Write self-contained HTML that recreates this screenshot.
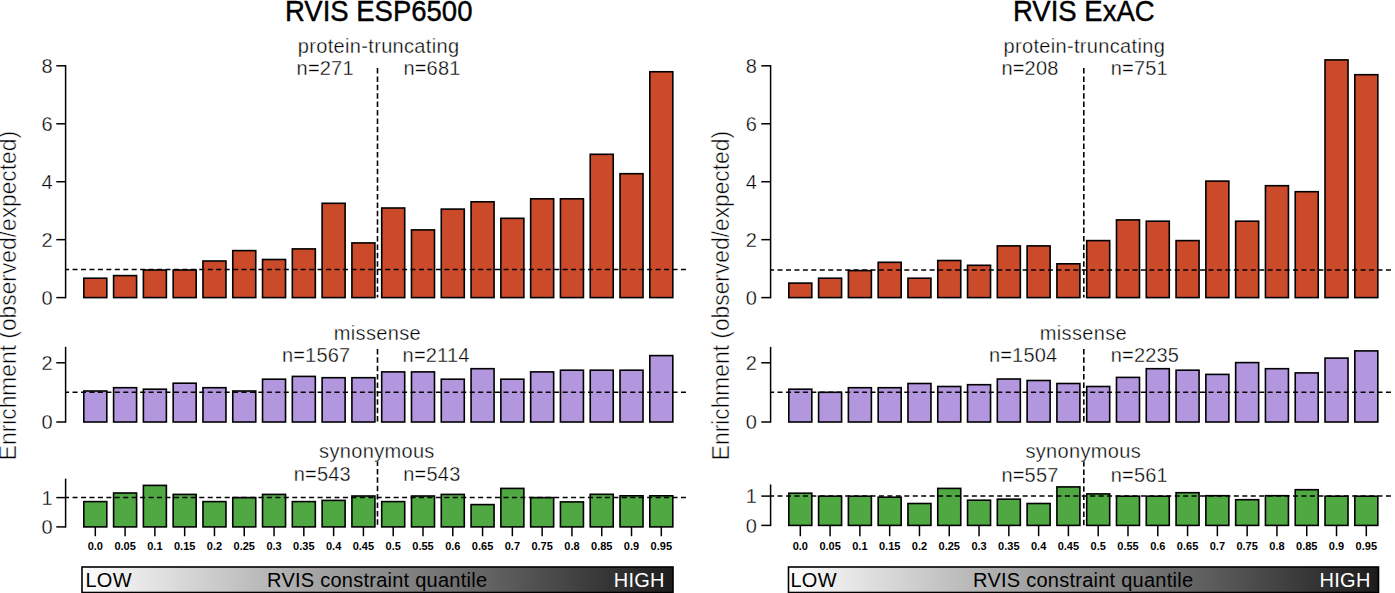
<!DOCTYPE html>
<html><head><meta charset="utf-8">
<style>
html,body{margin:0;padding:0;background:#fff;}
body{width:1395px;height:593px;overflow:hidden;}
svg{display:block;}
text{font-family:"Liberation Sans",sans-serif;fill:#000;}
.lb,.yl{stroke:#fff;stroke-width:0.35px;paint-order:fill;}
.yl{font-size:20px;text-anchor:end;}
.xl{font-size:11px;font-weight:bold;text-anchor:middle;}
.lb{font-size:20px;letter-spacing:0.2px;}
.ttl{font-size:27.5px;text-anchor:middle;stroke:#000;stroke-width:0.4px;}
.sp{letter-spacing:0.33px;}
.sp2{letter-spacing:0.25px;}
.ns{stroke:none;}
.yt{font-size:22.8px;stroke:#fff;stroke-width:0.5px;paint-order:fill;}
.b{fill:none;stroke:#000;stroke-width:1.6;}
.a{stroke:#000;stroke-width:1.5;fill:none;}
.d{stroke:#000;stroke-width:1.5;stroke-dasharray:5 3.45;stroke-dashoffset:1.5;}
.dv{stroke:#000;stroke-width:1.6;stroke-dasharray:5.5 2.9;}
</style></head><body>
<svg width="1395" height="593" viewBox="0 0 1395 593">
<defs>
<linearGradient id="g" x1="0" y1="0" x2="1" y2="0">
<stop offset="0" stop-color="#fefefe"/>
<stop offset="1" stop-color="#1c1c1c"/>
</linearGradient>
</defs>
<rect x="83.8" y="278.2" width="23" height="19.4" fill="#CA4A2A"/>
<rect x="113.59" y="275.6" width="23" height="22" fill="#CA4A2A"/>
<rect x="143.38" y="270" width="23" height="27.6" fill="#CA4A2A"/>
<rect x="173.17" y="270" width="23" height="27.6" fill="#CA4A2A"/>
<rect x="202.96" y="261" width="23" height="36.6" fill="#CA4A2A"/>
<rect x="232.75" y="250.6" width="23" height="47" fill="#CA4A2A"/>
<rect x="262.54" y="259.5" width="23" height="38.1" fill="#CA4A2A"/>
<rect x="292.33" y="248.9" width="23" height="48.7" fill="#CA4A2A"/>
<rect x="322.12" y="203.3" width="23" height="94.3" fill="#CA4A2A"/>
<rect x="351.91" y="242.9" width="23" height="54.7" fill="#CA4A2A"/>
<rect x="381.7" y="208" width="23" height="89.6" fill="#CA4A2A"/>
<rect x="411.49" y="229.9" width="23" height="67.7" fill="#CA4A2A"/>
<rect x="441.28" y="209.1" width="23" height="88.5" fill="#CA4A2A"/>
<rect x="471.07" y="201.8" width="23" height="95.8" fill="#CA4A2A"/>
<rect x="500.86" y="218.3" width="23" height="79.3" fill="#CA4A2A"/>
<rect x="530.65" y="198.8" width="23" height="98.8" fill="#CA4A2A"/>
<rect x="560.44" y="198.8" width="23" height="98.8" fill="#CA4A2A"/>
<rect x="590.23" y="154.3" width="23" height="143.3" fill="#CA4A2A"/>
<rect x="620.02" y="173.7" width="23" height="123.9" fill="#CA4A2A"/>
<rect x="649.81" y="71.75" width="23" height="225.85" fill="#CA4A2A"/>
<line x1="65.6" y1="269.6" x2="688.8" y2="269.6" class="d"/>
<line x1="377.5" y1="68" x2="377.5" y2="297.6" class="dv"/>
<line x1="65.6" y1="65.05" x2="65.6" y2="298.35" class="a"/>
<line x1="56.3" y1="297.6" x2="65.6" y2="297.6" class="a"/>
<text x="52.6" y="304.8" class="yl">0</text>
<line x1="56.3" y1="239.66" x2="65.6" y2="239.66" class="a"/>
<text x="52.6" y="246.86" class="yl">2</text>
<line x1="56.3" y1="181.72" x2="65.6" y2="181.72" class="a"/>
<text x="52.6" y="188.92" class="yl">4</text>
<line x1="56.3" y1="123.78" x2="65.6" y2="123.78" class="a"/>
<text x="52.6" y="130.98" class="yl">6</text>
<line x1="56.3" y1="65.8" x2="65.6" y2="65.8" class="a"/>
<text x="52.6" y="73" class="yl">8</text>
<rect x="83.8" y="391" width="23" height="31" fill="#B296DE"/>
<rect x="113.59" y="387.7" width="23" height="34.3" fill="#B296DE"/>
<rect x="143.38" y="389.2" width="23" height="32.8" fill="#B296DE"/>
<rect x="173.17" y="383.2" width="23" height="38.8" fill="#B296DE"/>
<rect x="202.96" y="387.7" width="23" height="34.3" fill="#B296DE"/>
<rect x="232.75" y="391" width="23" height="31" fill="#B296DE"/>
<rect x="262.54" y="379.2" width="23" height="42.8" fill="#B296DE"/>
<rect x="292.33" y="376.4" width="23" height="45.6" fill="#B296DE"/>
<rect x="322.12" y="377.7" width="23" height="44.3" fill="#B296DE"/>
<rect x="351.91" y="377.7" width="23" height="44.3" fill="#B296DE"/>
<rect x="381.7" y="371.9" width="23" height="50.1" fill="#B296DE"/>
<rect x="411.49" y="371.9" width="23" height="50.1" fill="#B296DE"/>
<rect x="441.28" y="379.2" width="23" height="42.8" fill="#B296DE"/>
<rect x="471.07" y="368.7" width="23" height="53.3" fill="#B296DE"/>
<rect x="500.86" y="379.2" width="23" height="42.8" fill="#B296DE"/>
<rect x="530.65" y="371.9" width="23" height="50.1" fill="#B296DE"/>
<rect x="560.44" y="370.2" width="23" height="51.8" fill="#B296DE"/>
<rect x="590.23" y="370.2" width="23" height="51.8" fill="#B296DE"/>
<rect x="620.02" y="370.2" width="23" height="51.8" fill="#B296DE"/>
<rect x="649.81" y="355.6" width="23" height="66.4" fill="#B296DE"/>
<line x1="65.6" y1="392.3" x2="688.8" y2="392.3" class="d"/>
<line x1="377.5" y1="348.9" x2="377.5" y2="422" class="dv"/>
<line x1="65.6" y1="346.85" x2="65.6" y2="422.75" class="a"/>
<line x1="56.3" y1="422" x2="65.6" y2="422" class="a"/>
<text x="52.6" y="429.2" class="yl">0</text>
<line x1="56.3" y1="362.8" x2="65.6" y2="362.8" class="a"/>
<text x="52.6" y="370" class="yl">2</text>
<rect x="83.8" y="501.6" width="23" height="25.3" fill="#4FA842"/>
<rect x="113.59" y="493" width="23" height="33.9" fill="#4FA842"/>
<rect x="143.38" y="485.4" width="23" height="41.5" fill="#4FA842"/>
<rect x="173.17" y="494.4" width="23" height="32.5" fill="#4FA842"/>
<rect x="202.96" y="501.6" width="23" height="25.3" fill="#4FA842"/>
<rect x="232.75" y="497.6" width="23" height="29.3" fill="#4FA842"/>
<rect x="262.54" y="494.4" width="23" height="32.5" fill="#4FA842"/>
<rect x="292.33" y="501.6" width="23" height="25.3" fill="#4FA842"/>
<rect x="322.12" y="500.4" width="23" height="26.5" fill="#4FA842"/>
<rect x="351.91" y="496" width="23" height="30.9" fill="#4FA842"/>
<rect x="381.7" y="501.6" width="23" height="25.3" fill="#4FA842"/>
<rect x="411.49" y="496" width="23" height="30.9" fill="#4FA842"/>
<rect x="441.28" y="494.4" width="23" height="32.5" fill="#4FA842"/>
<rect x="471.07" y="504.6" width="23" height="22.3" fill="#4FA842"/>
<rect x="500.86" y="488.4" width="23" height="38.5" fill="#4FA842"/>
<rect x="530.65" y="497.6" width="23" height="29.3" fill="#4FA842"/>
<rect x="560.44" y="501.9" width="23" height="25" fill="#4FA842"/>
<rect x="590.23" y="494.3" width="23" height="32.6" fill="#4FA842"/>
<rect x="620.02" y="495.8" width="23" height="31.1" fill="#4FA842"/>
<rect x="649.81" y="495.8" width="23" height="31.1" fill="#4FA842"/>
<line x1="65.6" y1="497.5" x2="688.8" y2="497.5" class="d"/>
<line x1="377.5" y1="460.5" x2="377.5" y2="526.9" class="dv"/>
<line x1="65.6" y1="478.65" x2="65.6" y2="527.65" class="a"/>
<line x1="56.3" y1="526.9" x2="65.6" y2="526.9" class="a"/>
<text x="52.6" y="534.1" class="yl">0</text>
<line x1="56.3" y1="497.6" x2="65.6" y2="497.6" class="a"/>
<text x="52.6" y="504.8" class="yl">1</text>
<rect x="83.8" y="278.2" width="23" height="19.4" class="b"/>
<rect x="113.59" y="275.6" width="23" height="22" class="b"/>
<rect x="143.38" y="270" width="23" height="27.6" class="b"/>
<rect x="173.17" y="270" width="23" height="27.6" class="b"/>
<rect x="202.96" y="261" width="23" height="36.6" class="b"/>
<rect x="232.75" y="250.6" width="23" height="47" class="b"/>
<rect x="262.54" y="259.5" width="23" height="38.1" class="b"/>
<rect x="292.33" y="248.9" width="23" height="48.7" class="b"/>
<rect x="322.12" y="203.3" width="23" height="94.3" class="b"/>
<rect x="351.91" y="242.9" width="23" height="54.7" class="b"/>
<rect x="381.7" y="208" width="23" height="89.6" class="b"/>
<rect x="411.49" y="229.9" width="23" height="67.7" class="b"/>
<rect x="441.28" y="209.1" width="23" height="88.5" class="b"/>
<rect x="471.07" y="201.8" width="23" height="95.8" class="b"/>
<rect x="500.86" y="218.3" width="23" height="79.3" class="b"/>
<rect x="530.65" y="198.8" width="23" height="98.8" class="b"/>
<rect x="560.44" y="198.8" width="23" height="98.8" class="b"/>
<rect x="590.23" y="154.3" width="23" height="143.3" class="b"/>
<rect x="620.02" y="173.7" width="23" height="123.9" class="b"/>
<rect x="649.81" y="71.75" width="23" height="225.85" class="b"/>
<rect x="83.8" y="391" width="23" height="31" class="b"/>
<rect x="113.59" y="387.7" width="23" height="34.3" class="b"/>
<rect x="143.38" y="389.2" width="23" height="32.8" class="b"/>
<rect x="173.17" y="383.2" width="23" height="38.8" class="b"/>
<rect x="202.96" y="387.7" width="23" height="34.3" class="b"/>
<rect x="232.75" y="391" width="23" height="31" class="b"/>
<rect x="262.54" y="379.2" width="23" height="42.8" class="b"/>
<rect x="292.33" y="376.4" width="23" height="45.6" class="b"/>
<rect x="322.12" y="377.7" width="23" height="44.3" class="b"/>
<rect x="351.91" y="377.7" width="23" height="44.3" class="b"/>
<rect x="381.7" y="371.9" width="23" height="50.1" class="b"/>
<rect x="411.49" y="371.9" width="23" height="50.1" class="b"/>
<rect x="441.28" y="379.2" width="23" height="42.8" class="b"/>
<rect x="471.07" y="368.7" width="23" height="53.3" class="b"/>
<rect x="500.86" y="379.2" width="23" height="42.8" class="b"/>
<rect x="530.65" y="371.9" width="23" height="50.1" class="b"/>
<rect x="560.44" y="370.2" width="23" height="51.8" class="b"/>
<rect x="590.23" y="370.2" width="23" height="51.8" class="b"/>
<rect x="620.02" y="370.2" width="23" height="51.8" class="b"/>
<rect x="649.81" y="355.6" width="23" height="66.4" class="b"/>
<rect x="83.8" y="501.6" width="23" height="25.3" class="b"/>
<rect x="113.59" y="493" width="23" height="33.9" class="b"/>
<rect x="143.38" y="485.4" width="23" height="41.5" class="b"/>
<rect x="173.17" y="494.4" width="23" height="32.5" class="b"/>
<rect x="202.96" y="501.6" width="23" height="25.3" class="b"/>
<rect x="232.75" y="497.6" width="23" height="29.3" class="b"/>
<rect x="262.54" y="494.4" width="23" height="32.5" class="b"/>
<rect x="292.33" y="501.6" width="23" height="25.3" class="b"/>
<rect x="322.12" y="500.4" width="23" height="26.5" class="b"/>
<rect x="351.91" y="496" width="23" height="30.9" class="b"/>
<rect x="381.7" y="501.6" width="23" height="25.3" class="b"/>
<rect x="411.49" y="496" width="23" height="30.9" class="b"/>
<rect x="441.28" y="494.4" width="23" height="32.5" class="b"/>
<rect x="471.07" y="504.6" width="23" height="22.3" class="b"/>
<rect x="500.86" y="488.4" width="23" height="38.5" class="b"/>
<rect x="530.65" y="497.6" width="23" height="29.3" class="b"/>
<rect x="560.44" y="501.9" width="23" height="25" class="b"/>
<rect x="590.23" y="494.3" width="23" height="32.6" class="b"/>
<rect x="620.02" y="495.8" width="23" height="31.1" class="b"/>
<rect x="649.81" y="495.8" width="23" height="31.1" class="b"/>
<line x1="95.3" y1="526.9" x2="95.3" y2="536.2" class="a"/>
<text x="95.3" y="549.6" class="xl">0.0</text>
<line x1="125.09" y1="526.9" x2="125.09" y2="536.2" class="a"/>
<text x="125.09" y="549.6" class="xl">0.05</text>
<line x1="154.88" y1="526.9" x2="154.88" y2="536.2" class="a"/>
<text x="154.88" y="549.6" class="xl">0.1</text>
<line x1="184.67" y1="526.9" x2="184.67" y2="536.2" class="a"/>
<text x="184.67" y="549.6" class="xl">0.15</text>
<line x1="214.46" y1="526.9" x2="214.46" y2="536.2" class="a"/>
<text x="214.46" y="549.6" class="xl">0.2</text>
<line x1="244.25" y1="526.9" x2="244.25" y2="536.2" class="a"/>
<text x="244.25" y="549.6" class="xl">0.25</text>
<line x1="274.04" y1="526.9" x2="274.04" y2="536.2" class="a"/>
<text x="274.04" y="549.6" class="xl">0.3</text>
<line x1="303.83" y1="526.9" x2="303.83" y2="536.2" class="a"/>
<text x="303.83" y="549.6" class="xl">0.35</text>
<line x1="333.62" y1="526.9" x2="333.62" y2="536.2" class="a"/>
<text x="333.62" y="549.6" class="xl">0.4</text>
<line x1="363.41" y1="526.9" x2="363.41" y2="536.2" class="a"/>
<text x="363.41" y="549.6" class="xl">0.45</text>
<line x1="393.2" y1="526.9" x2="393.2" y2="536.2" class="a"/>
<text x="393.2" y="549.6" class="xl">0.5</text>
<line x1="422.99" y1="526.9" x2="422.99" y2="536.2" class="a"/>
<text x="422.99" y="549.6" class="xl">0.55</text>
<line x1="452.78" y1="526.9" x2="452.78" y2="536.2" class="a"/>
<text x="452.78" y="549.6" class="xl">0.6</text>
<line x1="482.57" y1="526.9" x2="482.57" y2="536.2" class="a"/>
<text x="482.57" y="549.6" class="xl">0.65</text>
<line x1="512.36" y1="526.9" x2="512.36" y2="536.2" class="a"/>
<text x="512.36" y="549.6" class="xl">0.7</text>
<line x1="542.15" y1="526.9" x2="542.15" y2="536.2" class="a"/>
<text x="542.15" y="549.6" class="xl">0.75</text>
<line x1="571.94" y1="526.9" x2="571.94" y2="536.2" class="a"/>
<text x="571.94" y="549.6" class="xl">0.8</text>
<line x1="601.73" y1="526.9" x2="601.73" y2="536.2" class="a"/>
<text x="601.73" y="549.6" class="xl">0.85</text>
<line x1="631.52" y1="526.9" x2="631.52" y2="536.2" class="a"/>
<text x="631.52" y="549.6" class="xl">0.9</text>
<line x1="661.31" y1="526.9" x2="661.31" y2="536.2" class="a"/>
<text x="661.31" y="549.6" class="xl">0.95</text>
<rect x="788.8" y="283.1" width="23" height="14.5" fill="#CA4A2A"/>
<rect x="818.59" y="278.2" width="23" height="19.4" fill="#CA4A2A"/>
<rect x="848.38" y="270.6" width="23" height="27" fill="#CA4A2A"/>
<rect x="878.17" y="262.3" width="23" height="35.3" fill="#CA4A2A"/>
<rect x="907.96" y="278.2" width="23" height="19.4" fill="#CA4A2A"/>
<rect x="937.75" y="260.5" width="23" height="37.1" fill="#CA4A2A"/>
<rect x="967.54" y="265.3" width="23" height="32.3" fill="#CA4A2A"/>
<rect x="997.33" y="245.9" width="23" height="51.7" fill="#CA4A2A"/>
<rect x="1027.12" y="245.9" width="23" height="51.7" fill="#CA4A2A"/>
<rect x="1056.91" y="263.8" width="23" height="33.8" fill="#CA4A2A"/>
<rect x="1086.7" y="240.6" width="23" height="57" fill="#CA4A2A"/>
<rect x="1116.49" y="219.9" width="23" height="77.7" fill="#CA4A2A"/>
<rect x="1146.28" y="221.2" width="23" height="76.4" fill="#CA4A2A"/>
<rect x="1176.07" y="240.6" width="23" height="57" fill="#CA4A2A"/>
<rect x="1205.86" y="181.1" width="23" height="116.5" fill="#CA4A2A"/>
<rect x="1235.65" y="221.2" width="23" height="76.4" fill="#CA4A2A"/>
<rect x="1265.44" y="185.7" width="23" height="111.9" fill="#CA4A2A"/>
<rect x="1295.23" y="191.7" width="23" height="105.9" fill="#CA4A2A"/>
<rect x="1325.02" y="59.9" width="23" height="237.7" fill="#CA4A2A"/>
<rect x="1354.81" y="74.7" width="23" height="222.9" fill="#CA4A2A"/>
<line x1="770.6" y1="270" x2="1393.8" y2="270" class="d"/>
<line x1="1083.8" y1="68" x2="1083.8" y2="297.6" class="dv"/>
<line x1="770.6" y1="65.05" x2="770.6" y2="298.35" class="a"/>
<line x1="761.3" y1="297.6" x2="770.6" y2="297.6" class="a"/>
<text x="756.8" y="304.8" class="yl">0</text>
<line x1="761.3" y1="239.66" x2="770.6" y2="239.66" class="a"/>
<text x="756.8" y="246.86" class="yl">2</text>
<line x1="761.3" y1="181.72" x2="770.6" y2="181.72" class="a"/>
<text x="756.8" y="188.92" class="yl">4</text>
<line x1="761.3" y1="123.78" x2="770.6" y2="123.78" class="a"/>
<text x="756.8" y="130.98" class="yl">6</text>
<line x1="761.3" y1="65.8" x2="770.6" y2="65.8" class="a"/>
<text x="756.8" y="73" class="yl">8</text>
<rect x="788.8" y="389.2" width="23" height="32.8" fill="#B296DE"/>
<rect x="818.59" y="392.3" width="23" height="29.7" fill="#B296DE"/>
<rect x="848.38" y="387.7" width="23" height="34.3" fill="#B296DE"/>
<rect x="878.17" y="387.7" width="23" height="34.3" fill="#B296DE"/>
<rect x="907.96" y="383.5" width="23" height="38.5" fill="#B296DE"/>
<rect x="937.75" y="386.5" width="23" height="35.5" fill="#B296DE"/>
<rect x="967.54" y="384.7" width="23" height="37.3" fill="#B296DE"/>
<rect x="997.33" y="379" width="23" height="43" fill="#B296DE"/>
<rect x="1027.12" y="380.5" width="23" height="41.5" fill="#B296DE"/>
<rect x="1056.91" y="383.5" width="23" height="38.5" fill="#B296DE"/>
<rect x="1086.7" y="386.5" width="23" height="35.5" fill="#B296DE"/>
<rect x="1116.49" y="377.4" width="23" height="44.6" fill="#B296DE"/>
<rect x="1146.28" y="368.7" width="23" height="53.3" fill="#B296DE"/>
<rect x="1176.07" y="370.2" width="23" height="51.8" fill="#B296DE"/>
<rect x="1205.86" y="374.4" width="23" height="47.6" fill="#B296DE"/>
<rect x="1235.65" y="362.6" width="23" height="59.4" fill="#B296DE"/>
<rect x="1265.44" y="368.7" width="23" height="53.3" fill="#B296DE"/>
<rect x="1295.23" y="372.9" width="23" height="49.1" fill="#B296DE"/>
<rect x="1325.02" y="358.1" width="23" height="63.9" fill="#B296DE"/>
<rect x="1354.81" y="350.9" width="23" height="71.1" fill="#B296DE"/>
<line x1="770.6" y1="392.3" x2="1393.8" y2="392.3" class="d"/>
<line x1="1083.8" y1="348.9" x2="1083.8" y2="422" class="dv"/>
<line x1="770.6" y1="346.85" x2="770.6" y2="422.75" class="a"/>
<line x1="761.3" y1="422" x2="770.6" y2="422" class="a"/>
<text x="756.8" y="429.2" class="yl">0</text>
<line x1="761.3" y1="362.8" x2="770.6" y2="362.8" class="a"/>
<text x="756.8" y="370" class="yl">2</text>
<rect x="788.8" y="493.2" width="23" height="32.2" fill="#4FA842"/>
<rect x="818.59" y="496.2" width="23" height="29.2" fill="#4FA842"/>
<rect x="848.38" y="496.2" width="23" height="29.2" fill="#4FA842"/>
<rect x="878.17" y="497.2" width="23" height="28.2" fill="#4FA842"/>
<rect x="907.96" y="503.5" width="23" height="21.9" fill="#4FA842"/>
<rect x="937.75" y="488.4" width="23" height="37" fill="#4FA842"/>
<rect x="967.54" y="500.2" width="23" height="25.2" fill="#4FA842"/>
<rect x="997.33" y="499.2" width="23" height="26.2" fill="#4FA842"/>
<rect x="1027.12" y="503.5" width="23" height="21.9" fill="#4FA842"/>
<rect x="1056.91" y="486.9" width="23" height="38.5" fill="#4FA842"/>
<rect x="1086.7" y="493.9" width="23" height="31.5" fill="#4FA842"/>
<rect x="1116.49" y="496.2" width="23" height="29.2" fill="#4FA842"/>
<rect x="1146.28" y="496.2" width="23" height="29.2" fill="#4FA842"/>
<rect x="1176.07" y="492.7" width="23" height="32.7" fill="#4FA842"/>
<rect x="1205.86" y="495.7" width="23" height="29.7" fill="#4FA842"/>
<rect x="1235.65" y="499.7" width="23" height="25.7" fill="#4FA842"/>
<rect x="1265.44" y="495.7" width="23" height="29.7" fill="#4FA842"/>
<rect x="1295.23" y="489.7" width="23" height="35.7" fill="#4FA842"/>
<rect x="1325.02" y="496.2" width="23" height="29.2" fill="#4FA842"/>
<rect x="1354.81" y="496.2" width="23" height="29.2" fill="#4FA842"/>
<line x1="770.6" y1="495.9" x2="1393.8" y2="495.9" class="d"/>
<line x1="1083.8" y1="461" x2="1083.8" y2="525.4" class="dv"/>
<line x1="770.6" y1="484.45" x2="770.6" y2="526.15" class="a"/>
<line x1="761.3" y1="525.4" x2="770.6" y2="525.4" class="a"/>
<text x="756.8" y="532.6" class="yl">0</text>
<line x1="761.3" y1="496.1" x2="770.6" y2="496.1" class="a"/>
<text x="756.8" y="503.3" class="yl">1</text>
<rect x="788.8" y="283.1" width="23" height="14.5" class="b"/>
<rect x="818.59" y="278.2" width="23" height="19.4" class="b"/>
<rect x="848.38" y="270.6" width="23" height="27" class="b"/>
<rect x="878.17" y="262.3" width="23" height="35.3" class="b"/>
<rect x="907.96" y="278.2" width="23" height="19.4" class="b"/>
<rect x="937.75" y="260.5" width="23" height="37.1" class="b"/>
<rect x="967.54" y="265.3" width="23" height="32.3" class="b"/>
<rect x="997.33" y="245.9" width="23" height="51.7" class="b"/>
<rect x="1027.12" y="245.9" width="23" height="51.7" class="b"/>
<rect x="1056.91" y="263.8" width="23" height="33.8" class="b"/>
<rect x="1086.7" y="240.6" width="23" height="57" class="b"/>
<rect x="1116.49" y="219.9" width="23" height="77.7" class="b"/>
<rect x="1146.28" y="221.2" width="23" height="76.4" class="b"/>
<rect x="1176.07" y="240.6" width="23" height="57" class="b"/>
<rect x="1205.86" y="181.1" width="23" height="116.5" class="b"/>
<rect x="1235.65" y="221.2" width="23" height="76.4" class="b"/>
<rect x="1265.44" y="185.7" width="23" height="111.9" class="b"/>
<rect x="1295.23" y="191.7" width="23" height="105.9" class="b"/>
<rect x="1325.02" y="59.9" width="23" height="237.7" class="b"/>
<rect x="1354.81" y="74.7" width="23" height="222.9" class="b"/>
<rect x="788.8" y="389.2" width="23" height="32.8" class="b"/>
<rect x="818.59" y="392.3" width="23" height="29.7" class="b"/>
<rect x="848.38" y="387.7" width="23" height="34.3" class="b"/>
<rect x="878.17" y="387.7" width="23" height="34.3" class="b"/>
<rect x="907.96" y="383.5" width="23" height="38.5" class="b"/>
<rect x="937.75" y="386.5" width="23" height="35.5" class="b"/>
<rect x="967.54" y="384.7" width="23" height="37.3" class="b"/>
<rect x="997.33" y="379" width="23" height="43" class="b"/>
<rect x="1027.12" y="380.5" width="23" height="41.5" class="b"/>
<rect x="1056.91" y="383.5" width="23" height="38.5" class="b"/>
<rect x="1086.7" y="386.5" width="23" height="35.5" class="b"/>
<rect x="1116.49" y="377.4" width="23" height="44.6" class="b"/>
<rect x="1146.28" y="368.7" width="23" height="53.3" class="b"/>
<rect x="1176.07" y="370.2" width="23" height="51.8" class="b"/>
<rect x="1205.86" y="374.4" width="23" height="47.6" class="b"/>
<rect x="1235.65" y="362.6" width="23" height="59.4" class="b"/>
<rect x="1265.44" y="368.7" width="23" height="53.3" class="b"/>
<rect x="1295.23" y="372.9" width="23" height="49.1" class="b"/>
<rect x="1325.02" y="358.1" width="23" height="63.9" class="b"/>
<rect x="1354.81" y="350.9" width="23" height="71.1" class="b"/>
<rect x="788.8" y="493.2" width="23" height="32.2" class="b"/>
<rect x="818.59" y="496.2" width="23" height="29.2" class="b"/>
<rect x="848.38" y="496.2" width="23" height="29.2" class="b"/>
<rect x="878.17" y="497.2" width="23" height="28.2" class="b"/>
<rect x="907.96" y="503.5" width="23" height="21.9" class="b"/>
<rect x="937.75" y="488.4" width="23" height="37" class="b"/>
<rect x="967.54" y="500.2" width="23" height="25.2" class="b"/>
<rect x="997.33" y="499.2" width="23" height="26.2" class="b"/>
<rect x="1027.12" y="503.5" width="23" height="21.9" class="b"/>
<rect x="1056.91" y="486.9" width="23" height="38.5" class="b"/>
<rect x="1086.7" y="493.9" width="23" height="31.5" class="b"/>
<rect x="1116.49" y="496.2" width="23" height="29.2" class="b"/>
<rect x="1146.28" y="496.2" width="23" height="29.2" class="b"/>
<rect x="1176.07" y="492.7" width="23" height="32.7" class="b"/>
<rect x="1205.86" y="495.7" width="23" height="29.7" class="b"/>
<rect x="1235.65" y="499.7" width="23" height="25.7" class="b"/>
<rect x="1265.44" y="495.7" width="23" height="29.7" class="b"/>
<rect x="1295.23" y="489.7" width="23" height="35.7" class="b"/>
<rect x="1325.02" y="496.2" width="23" height="29.2" class="b"/>
<rect x="1354.81" y="496.2" width="23" height="29.2" class="b"/>
<line x1="800.3" y1="525.4" x2="800.3" y2="536.2" class="a"/>
<text x="800.3" y="549.6" class="xl">0.0</text>
<line x1="830.09" y1="525.4" x2="830.09" y2="536.2" class="a"/>
<text x="830.09" y="549.6" class="xl">0.05</text>
<line x1="859.88" y1="525.4" x2="859.88" y2="536.2" class="a"/>
<text x="859.88" y="549.6" class="xl">0.1</text>
<line x1="889.67" y1="525.4" x2="889.67" y2="536.2" class="a"/>
<text x="889.67" y="549.6" class="xl">0.15</text>
<line x1="919.46" y1="525.4" x2="919.46" y2="536.2" class="a"/>
<text x="919.46" y="549.6" class="xl">0.2</text>
<line x1="949.25" y1="525.4" x2="949.25" y2="536.2" class="a"/>
<text x="949.25" y="549.6" class="xl">0.25</text>
<line x1="979.04" y1="525.4" x2="979.04" y2="536.2" class="a"/>
<text x="979.04" y="549.6" class="xl">0.3</text>
<line x1="1008.83" y1="525.4" x2="1008.83" y2="536.2" class="a"/>
<text x="1008.83" y="549.6" class="xl">0.35</text>
<line x1="1038.62" y1="525.4" x2="1038.62" y2="536.2" class="a"/>
<text x="1038.62" y="549.6" class="xl">0.4</text>
<line x1="1068.41" y1="525.4" x2="1068.41" y2="536.2" class="a"/>
<text x="1068.41" y="549.6" class="xl">0.45</text>
<line x1="1098.2" y1="525.4" x2="1098.2" y2="536.2" class="a"/>
<text x="1098.2" y="549.6" class="xl">0.5</text>
<line x1="1127.99" y1="525.4" x2="1127.99" y2="536.2" class="a"/>
<text x="1127.99" y="549.6" class="xl">0.55</text>
<line x1="1157.78" y1="525.4" x2="1157.78" y2="536.2" class="a"/>
<text x="1157.78" y="549.6" class="xl">0.6</text>
<line x1="1187.57" y1="525.4" x2="1187.57" y2="536.2" class="a"/>
<text x="1187.57" y="549.6" class="xl">0.65</text>
<line x1="1217.36" y1="525.4" x2="1217.36" y2="536.2" class="a"/>
<text x="1217.36" y="549.6" class="xl">0.7</text>
<line x1="1247.15" y1="525.4" x2="1247.15" y2="536.2" class="a"/>
<text x="1247.15" y="549.6" class="xl">0.75</text>
<line x1="1276.94" y1="525.4" x2="1276.94" y2="536.2" class="a"/>
<text x="1276.94" y="549.6" class="xl">0.8</text>
<line x1="1306.73" y1="525.4" x2="1306.73" y2="536.2" class="a"/>
<text x="1306.73" y="549.6" class="xl">0.85</text>
<line x1="1336.52" y1="525.4" x2="1336.52" y2="536.2" class="a"/>
<text x="1336.52" y="549.6" class="xl">0.9</text>
<line x1="1366.31" y1="525.4" x2="1366.31" y2="536.2" class="a"/>
<text x="1366.31" y="549.6" class="xl">0.95</text>
<!-- titles -->
<text transform="translate(378.7,20.6) scale(1,1.06)" class="ttl">RVIS ESP6500</text>
<text transform="translate(1083.8,20.6) scale(1,1.06)" class="ttl">RVIS ExAC</text>
<!-- subtitles -->
<text x="378.6" y="52.8" class="lb sp" text-anchor="middle">protein-truncating</text>
<text x="1084.3" y="52.8" class="lb sp" text-anchor="middle">protein-truncating</text>
<text x="377.4" y="339.8" class="lb sp" text-anchor="middle">missense</text>
<text x="1083.4" y="339.8" class="lb sp" text-anchor="middle">missense</text>
<text x="376.9" y="457.6" class="lb sp" text-anchor="middle">synonymous</text>
<text x="1083.2" y="457.8" class="lb sp" text-anchor="middle">synonymous</text>
<!-- n labels -->
<text x="296.6" y="74.9" class="lb">n=271</text>
<text x="403.4" y="74.9" class="lb">n=681</text>
<text x="281.9" y="361.8" class="lb">n=1567</text>
<text x="402.6" y="361.8" class="lb">n=2114</text>
<text x="293.7" y="481.2" class="lb">n=543</text>
<text x="403.3" y="481.2" class="lb">n=543</text>
<text x="1001.4" y="74.9" class="lb">n=208</text>
<text x="1110.7" y="74.9" class="lb">n=751</text>
<text x="988.9" y="361.8" class="lb">n=1504</text>
<text x="1110.7" y="361.8" class="lb">n=2235</text>
<text x="1001.4" y="481.5" class="lb">n=557</text>
<text x="1110.7" y="481.5" class="lb">n=561</text>
<!-- y axis titles -->
<text transform="translate(16.3,295.6) rotate(-90) scale(1,1.05)" class="yt" text-anchor="middle">Enrichment (observed/expected)</text>
<text transform="translate(728.8,295.6) rotate(-90) scale(1,1.05)" class="yt" text-anchor="middle">Enrichment (observed/expected)</text>
<!-- gradient boxes -->
<rect x="82" y="567" width="591" height="25.5" fill="url(#g)" stroke="#000" stroke-width="1.6"/>
<rect x="788.5" y="567" width="590" height="25.5" fill="url(#g)" stroke="#000" stroke-width="1.6"/>
<text x="85.5" y="586.5" class="lb sp2 ns">LOW</text>
<text x="377.2" y="586.5" class="lb sp2 ns" text-anchor="middle">RVIS constraint quantile</text>
<text x="664.8" y="586.5" class="lb sp2 ns" text-anchor="end" style="fill:#fff">HIGH</text>
<text x="790.5" y="586.5" class="lb sp2 ns">LOW</text>
<text x="1083.2" y="586.5" class="lb sp2 ns" text-anchor="middle">RVIS constraint quantile</text>
<text x="1370.6" y="586.5" class="lb sp2 ns" text-anchor="end" style="fill:#fff">HIGH</text>
</svg>
</body></html>
